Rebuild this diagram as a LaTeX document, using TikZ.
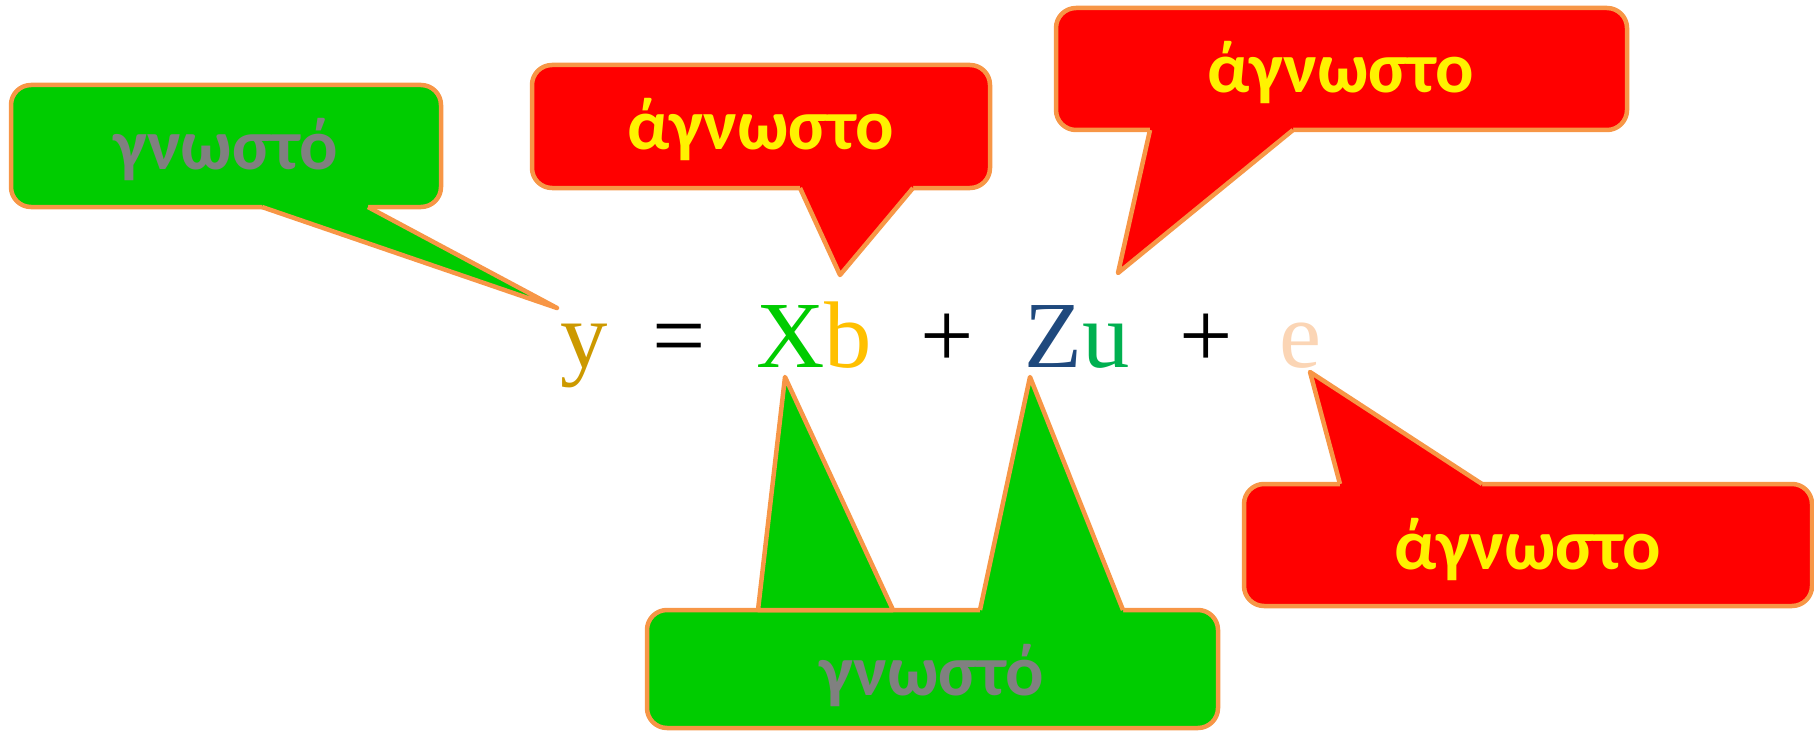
\documentclass[tikz,border=0pt]{standalone}
\usepackage{fontspec}
\setmainfont{Liberation Serif}
\newfontfamily\bubblefont{Carlito}[Kerning=Off]
\definecolor{edgeorange}{HTML}{F79646}
\definecolor{knowngreen}{HTML}{00CC00}
\definecolor{wordgray}{HTML}{808080}
\definecolor{ycol}{HTML}{CC9900}
\definecolor{bcol}{HTML}{FFC000}
\definecolor{zcol}{HTML}{1F497D}
\definecolor{ucol}{HTML}{00B050}
\definecolor{ecol}{HTML}{FBD5B5}

\begin{document}
\begin{tikzpicture}[x=1bp,y=-1bp,line join=round,
  bubble/.style={draw=edgeorange,line width=4.5bp,rounded corners=20bp},
  known/.style={bubble,fill=knowngreen},
  unknown/.style={bubble,fill=red},
  side/.style={draw=edgeorange,line width=4.5bp},
  word/.style={anchor=base,inner sep=0pt,font=\bubblefont\bfseries\fontsize{72}{80}\selectfont},
  eqterm/.style={anchor=base west,inner sep=0pt,font=\fontsize{95}{110}\selectfont}]
  \useasboundingbox (0,0) rectangle (1814,731);

  % the model
  \node[eqterm,text=ycol] (ytxt) at (560,367) {y};
  \node[eqterm] (eqsign) at (652,367) {=};
  \node[eqterm] (xb) at (756,367) {\textcolor{knowngreen}{X}\textcolor{bcol}{b}};
  \node[eqterm] (plusa) at (920,367) {+};
  \node[eqterm] (zu) at (1024,367) {\textcolor{zcol}{Z}\textcolor{ucol}{u}};
  \node[eqterm] (plusb) at (1179,367) {+};
  \node[eqterm,text=ecol] (etxt) at (1279,367) {e};

  % known: y
  \draw[known] (11,85) rectangle (441,207);
  \fill[knowngreen] (262,207)--(557,308)--(368,207)--(368,201)--(262,201)--cycle;
  \draw[side] (262,207)--(557,308)--(368,207);
  \node[word,text=wordgray] (known1) at (226,170) {γνωστό};

  % unknown: b
  \draw[unknown] (532,65) rectangle (990,188);
  \fill[red] (800,188)--(840,275)--(913,188)--(913,182)--(800,182)--cycle;
  \draw[side] (800,188)--(840,275)--(913,188);
  \node[word,text=yellow] (unknown1) at (761,150) {άγνωστο};

  % unknown: u
  \draw[unknown] (1056,8) rectangle (1627,130);
  \fill[red] (1150,130)--(1118,273)--(1293,130)--(1293,124)--(1150,124)--cycle;
  \draw[side] (1150,130)--(1118,273)--(1293,130);
  \node[word,text=yellow] (unknown2) at (1341,93) {άγνωστο};

  % unknown: e
  \draw[unknown] (1244,484) rectangle (1812,606);
  \fill[red] (1340,484)--(1310,372)--(1482,484)--(1482,490)--(1340,490)--cycle;
  \draw[side] (1340,484)--(1310,372)--(1482,484);
  \node[word,text=yellow] (unknown3) at (1528,569) {άγνωστο};

  % known: X and Z
  \draw[known] (647,610) rectangle (1218,728);
  \fill[knowngreen] (980,610)--(1030,377)--(1123,610)--(1123,616)--(980,616)--cycle;
  \draw[side] (980,610)--(1030,377)--(1123,610);
  \draw[side,fill=knowngreen] (758,610)--(785,377)--(893,610)--cycle;
  \node[word,text=wordgray] (known2) at (932,695) {γνωστό};
\end{tikzpicture}
\end{document}
